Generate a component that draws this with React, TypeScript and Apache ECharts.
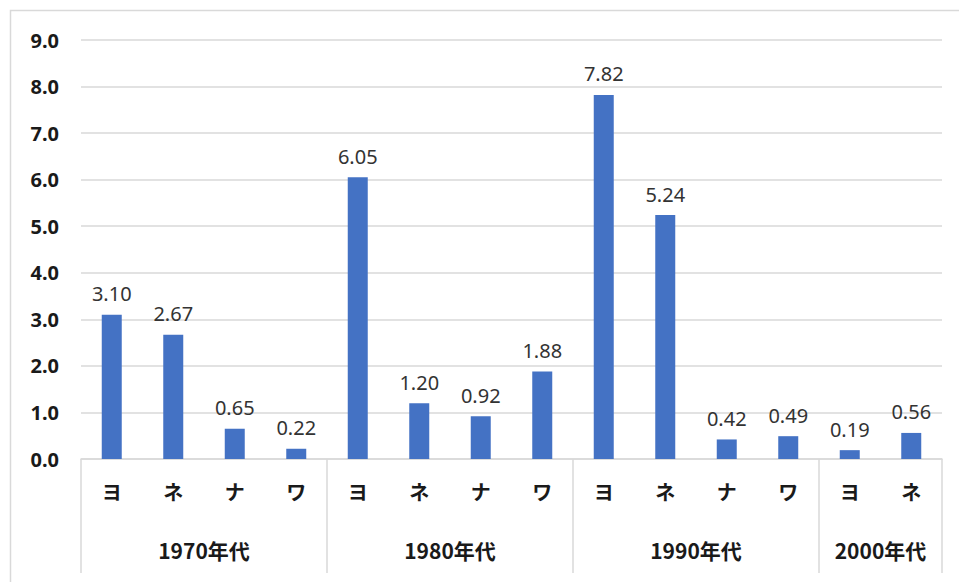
import React, { useEffect, useRef } from "react";
import * as echarts from "echarts";

const subCategories = ["ヨ", "ネ", "ナ", "ワ", "ヨ", "ネ", "ナ", "ワ", "ヨ", "ネ", "ナ", "ワ", "ヨ", "ネ"];
const values = [3.1, 2.67, 0.65, 0.22, 6.05, 1.2, 0.92, 1.88, 7.82, 5.24, 0.42, 0.49, 0.19, 0.56];
const groupNames = ["1970年代", "1980年代", "1990年代", "2000年代"];
const groupSizes = [4, 4, 4, 2];
const yTicks = [0, 1, 2, 3, 4, 5, 6, 7, 8, 9];

export default function App() {
  const ref = useRef<HTMLDivElement>(null);
  useEffect(() => {
    document.body.style.margin = "0";
    const chart = echarts.init(ref.current!, null, { renderer: "svg" });
    const boundaries: number[] = [0];
    const centers: number[] = [];
    let acc = 0;
    groupSizes.forEach((s) => {
      centers.push(acc + s / 2);
      acc += s;
      boundaries.push(acc);
    });
    const font = "'Noto Sans', 'Noto Sans CJK JP', sans-serif";
    chart.setOption({
      animation: false,
      graphic: [
        {
          type: "rect",
          shape: { x: 10.5, y: 10.5, width: 1000, height: 700 },
          style: { fill: "none", stroke: "#d9d9d9", lineWidth: 1.5 },
          silent: true,
        },
      ],
      grid: { left: 81, right: 17, top: 40, bottom: 123 },
      xAxis: [
        {
          type: "category",
          data: subCategories,
          axisLine: { lineStyle: { color: "#d9d9d9", width: 1.5 } },
          axisTick: { show: false },
          axisLabel: {
            margin: 22,
            fontSize: 20,
            fontWeight: "bold",
            color: "#1a1a1a",
            fontFamily: "'Noto Sans CJK JP', sans-serif",
          },
        },
        {
          type: "value",
          position: "bottom",
          min: 0,
          max: values.length,
          axisLine: { show: false },
          splitLine: { show: false },
          axisTick: {
            show: true,
            customValues: boundaries,
            length: 114,
            inside: false,
            lineStyle: { color: "#d9d9d9", width: 1.5 },
          },
          axisLabel: {
            customValues: centers,
            margin: 80,
            fontSize: 21,
            fontWeight: "bold",
            color: "#1a1a1a",
            fontFamily: "'Noto Sans CJK JP', sans-serif",
            formatter: (v: number) => {
              const i = centers.findIndex((c) => Math.abs(c - v) < 1e-6);
              return i >= 0 ? groupNames[i] : "";
            },
          },
        },
      ],
      yAxis: {
        type: "value",
        min: yTicks[0],
        max: yTicks[yTicks.length - 1],
        interval: 1,
        axisLine: { show: false },
        axisTick: { show: false },
        splitLine: { lineStyle: { color: "#d9d9d9", width: 1.5 } },
        axisLabel: {
          margin: 22,
          fontSize: 20,
          fontWeight: "bold",
          color: "#1a1a1a",
          fontFamily: font,
          formatter: (v: number) => v.toFixed(1),
        },
      },
      series: [
        {
          type: "bar",
          xAxisIndex: 0,
          data: values,
          barWidth: 20,
          itemStyle: { color: "#4472C4" },
          label: {
            show: true,
            position: "top",
            distance: 11,
            fontSize: 20,
            color: "#333333",
            fontFamily: font,
            formatter: (p: any) => Number(p.value).toFixed(2),
          },
        },
      ],
    });
    return () => chart.dispose();
  }, []);
  return <div ref={ref} style={{ width: 959, height: 582 }} />;
}
